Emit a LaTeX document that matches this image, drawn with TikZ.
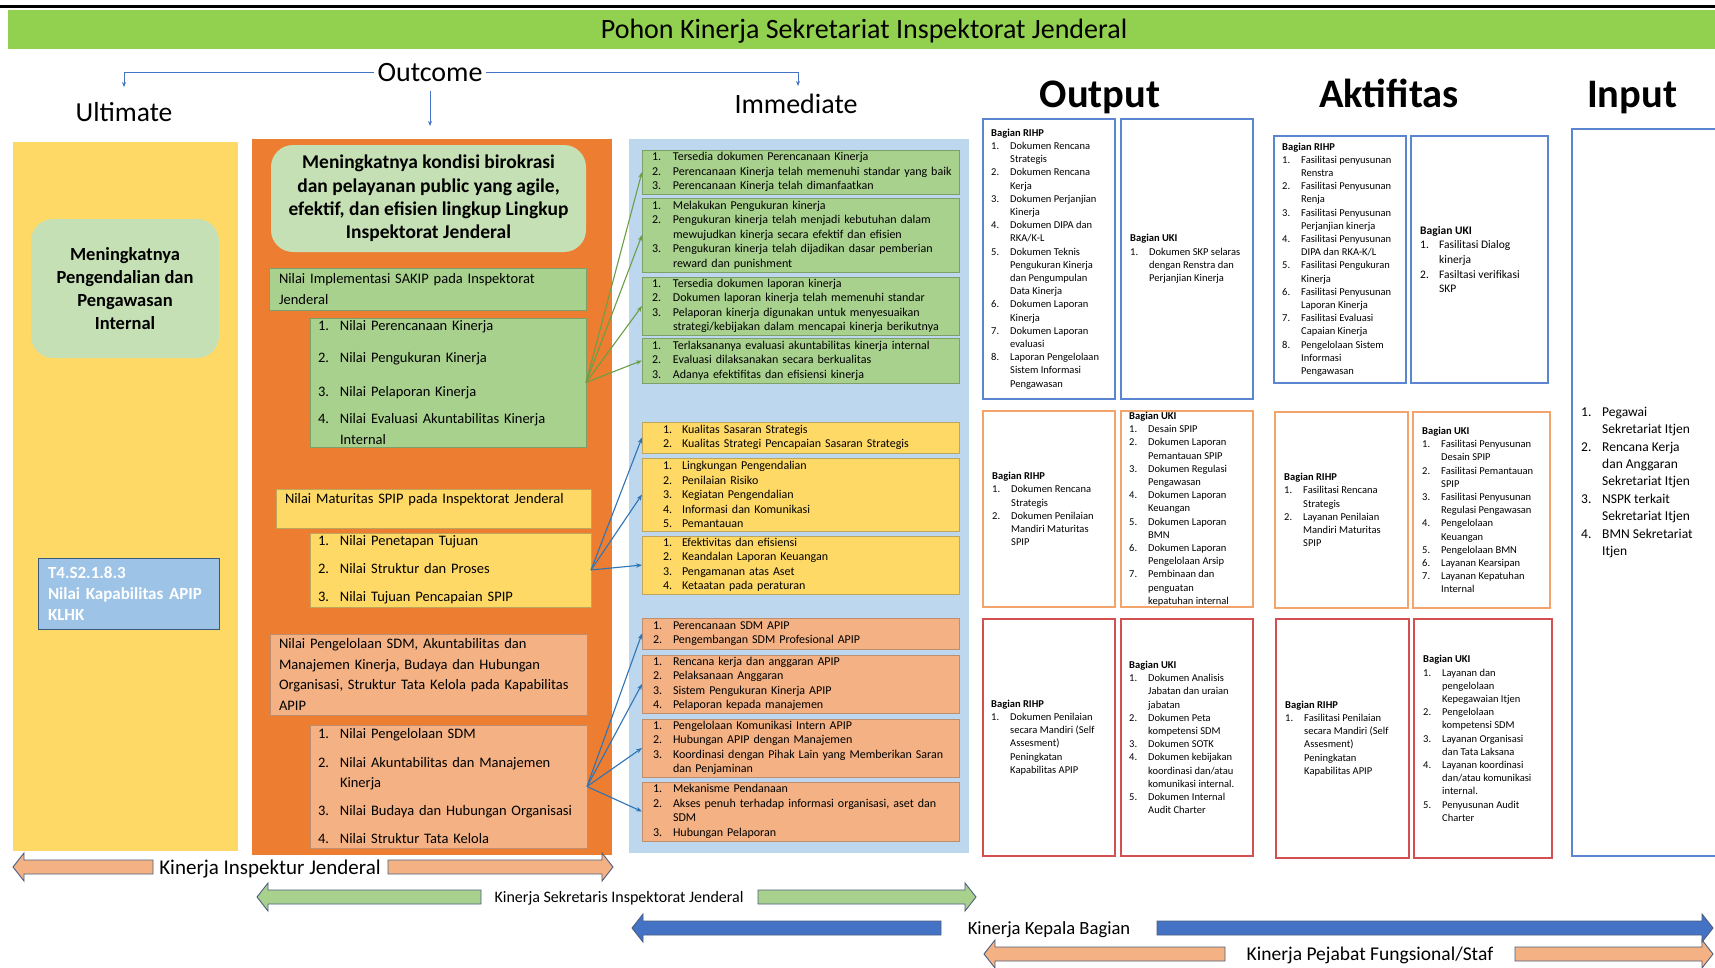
\documentclass[tikz,border=0pt]{standalone}
\usepackage{fontspec}
\setmainfont{Carlito}
\usetikzlibrary{arrows.meta}
\definecolor{bannergreen}{HTML}{92D050}
\definecolor{colyellow}{HTML}{FFD966}
\definecolor{colorange}{HTML}{ED7D31}
\definecolor{colblue}{HTML}{BDD7EE}
\definecolor{lgreen}{HTML}{C5E0B4}
\definecolor{mgreen}{HTML}{A9D18E}
\definecolor{myellow}{HTML}{FFD966}
\definecolor{salmon}{HTML}{F4B183}
\definecolor{gbord}{HTML}{7F9F68}
\definecolor{ybord}{HTML}{BFA65A}
\definecolor{sbord}{HTML}{BF8E6E}
\definecolor{kblue}{HTML}{9DC3E6}
\definecolor{kbluedark}{HTML}{3B5A7A}
\definecolor{conngreen}{HTML}{6A9F45}
\definecolor{connblue}{HTML}{2E75B6}
\definecolor{oblue}{HTML}{5B85D0}
\definecolor{oorange}{HTML}{F3A46A}
\definecolor{ored}{HTML}{D25050}
\definecolor{arrline}{HTML}{4A5F80}
\definecolor{arrblue}{HTML}{4472C4}
\newlength{\numw}
\newcommand{\litem}[2]{\mbox{\makebox[\numw][l]{#1}#2}}
\newcommand{\lcont}[1]{\mbox{\hspace*{\numw}#1}}
\newcommand{\fs}[2]{\fontsize{#1}{#2}\selectfont}
\newcommand{\harrow}[4]{%
  \pgfmathsetmacro{\arrhb}{(#3>#2) ? (#3-11) : (#3+11)}%
  \filldraw[fill=#1, draw=arrline, line width=0.9pt] (#2,#4-7) -- (\arrhb,#4-7) -- (\arrhb,#4-14) -- (#3,#4) -- (\arrhb,#4+14) -- (\arrhb,#4+7) -- (#2,#4+7) -- cycle;}
\tikzset{
  bg/.style={inner sep=0pt, outer sep=0pt, anchor=north west},
  immbox/.style={line width=0.9pt, inner ysep=0pt, outer sep=0pt, align=left, font=\fs{12}{14.5}, minimum width=317pt},
  subbox/.style={line width=0.9pt, inner ysep=0pt, outer sep=0pt, align=left, font=\fs{14.5}{20.5}},
  obox/.style={draw=#1, line width=1.4pt, fill=white, inner sep=0pt, outer sep=0pt},
  otext/.style={anchor=west, align=left, inner sep=0pt, font=\fs{10.5}{13.2}},
  gconn/.style={draw=conngreen, line width=1.1pt, -{Stealth[length=6pt,width=4.5pt]}},
  bconn/.style={draw=connblue, line width=1.1pt, -{Stealth[length=6pt,width=4.5pt]}},
  oconn/.style={draw=arrblue, line width=1pt, -{Stealth[length=5pt,width=4pt]}},
  head/.style={anchor=base, inner sep=0pt, font=\bfseries\fs{40.5}{46}},
  sub/.style={anchor=base, font=\fs{28}{32}},
  arrtext/.style={anchor=base, inner sep=0pt}
}
\begin{document}
\begin{tikzpicture}[x=1pt,y=-1pt]
\useasboundingbox (0,0) rectangle (1715,967);
\fill[white] (0,0) rectangle (1715,967);
\draw[line width=3pt] (0,6) -- (1715,6);
\node[bg, fill=bannergreen, minimum width=1707pt, minimum height=39pt] (banner) at (8,10) {};
\node[anchor=base, font=\fs{28}{32}] (title) at (864,38.5) {Pohon Kinerja Sekretariat Inspektorat Jenderal};

% headers
\node[sub] (outcome) at (430,81) {Outcome};
\node[sub, font=\fs{27.5}{32}] (ultimate) at (124,121) {Ultimate};
\node[sub] (immediate) at (796,113) {Immediate};
\coordinate (ultArr) at (124,87);
\coordinate (immArr) at (798,86);
\coordinate (outArr) at (430,126);
\draw[oconn] (outcome.west) -| (ultArr);
\draw[oconn] (outcome.east) -| (immArr);
\draw[oconn, shorten <=6pt] (outcome.south) -- (outArr);
\node[head] (output) at (1100,107) {Output};
\node[head] (aktifitas) at (1389,107) {Aktifitas};
\node[head] (input) at (1632,107) {Input};

% columns
\node[bg, fill=colyellow, minimum width=225pt, minimum height=709pt] (ycol) at (13,142) {};
\node[bg, fill=colorange, minimum width=360pt, minimum height=716pt] (ocol) at (252,139) {};
\node[bg, fill=colblue, minimum width=340pt, minimum height=714pt] (bcol) at (629,139) {};

% ultimate column
\node[fill=lgreen, rounded corners=22pt, minimum width=188pt, minimum height=139pt, align=center, font=\bfseries\fs{18.5}{23}] (ultbox) at (125,288.5) {Meningkatnya\\Pengendalian dan\\Pengawasan\\Internal};
\node[fill=kblue, draw=kbluedark, line width=1pt, minimum width=181pt, minimum height=71pt, inner xsep=10pt, inner ysep=0pt, text width=161pt, align=left, text=white, font=\bfseries\fs{17}{21}] (apip) at (128.5,593.5) {T4.S2.1.8.3\\Nilai Kapabilitas APIP\\KLHK};

% outcome column
\node[fill=lgreen, rounded corners=22pt, minimum width=315pt, minimum height=107pt, align=center, font=\bfseries\fs{19.5}{23.4}] (topbox) at (428.5,198.5) {Meningkatnya kondisi birokrasi\\dan pelayanan public yang agile,\\efektif, dan efisien lingkup Lingkup\\Inspektorat Jenderal};
\node[subbox, fill=mgreen, draw=gbord, inner xsep=10pt, text width=297pt, minimum height=42pt] (sakip) at (427.5,289) {Nilai Implementasi SAKIP pada Inspektorat\\Jenderal};
\setlength{\numw}{22pt}
\node[subbox, fill=mgreen, draw=gbord, inner xsep=8pt, text width=260pt, minimum height=129pt] (gsub) at (448,382.5) {\litem{1.}{Nilai Perencanaan Kinerja}\\[12pt]\litem{2.}{Nilai Pengukuran Kinerja}\\[13pt]\litem{3.}{Nilai Pelaporan Kinerja}\\[7pt]\litem{4.}{Nilai Evaluasi Akuntabilitas Kinerja}\\\lcont{Internal}};
\node[subbox, fill=myellow, draw=ybord, inner xsep=9pt, text width=297pt, minimum height=39pt] (spip) at (433.5,508.5) {Nilai Maturitas SPIP pada Inspektorat Jenderal\\\mbox{}};
\node[subbox, fill=myellow, draw=ybord, inner xsep=8pt, text width=265pt, minimum height=74pt] (ysub) at (450.5,570) {\litem{1.}{Nilai Penetapan Tujuan}\\[7.5pt]\litem{2.}{Nilai Struktur dan Proses}\\[7.5pt]\litem{3.}{Nilai Tujuan Pencapaian SPIP}};
\node[subbox, fill=salmon, draw=sbord, inner xsep=9pt, text width=299pt, minimum height=81pt] (sdm) at (428.5,674.5) {Nilai Pengelolaan SDM, Akuntabilitas dan\\Manajemen Kinerja, Budaya dan Hubungan\\Organisasi, Struktur Tata Kelola pada Kapabilitas\\APIP};
\node[subbox, fill=salmon, draw=sbord, inner xsep=8pt, text width=261pt, minimum height=123pt] (ssub) at (448.5,786.5) {\litem{1.}{Nilai Pengelolaan SDM}\\[8pt]\litem{2.}{Nilai Akuntabilitas dan Manajemen}\\\lcont{Kinerja}\\[7pt]\litem{3.}{Nilai Budaya dan Hubungan Organisasi}\\[8pt]\litem{4.}{Nilai Struktur Tata Kelola}};

% immediate column
\setlength{\numw}{21pt}
\node[immbox, fill=mgreen, draw=gbord, inner xsep=10pt, text width=297pt, minimum height=44pt] (g1) at (800.5,172) {\litem{1.}{Tersedia dokumen Perencanaan Kinerja}\\\litem{2.}{Perencanaan Kinerja telah memenuhi standar yang baik}\\\litem{3.}{Perencanaan Kinerja telah dimanfaatkan}};
\node[immbox, fill=mgreen, draw=gbord, inner xsep=10pt, text width=297pt, minimum height=74pt] (g2) at (800.5,235) {\litem{1.}{Melakukan Pengukuran kinerja}\\\litem{2.}{Pengukuran kinerja telah menjadi kebutuhan dalam}\\\lcont{mewujudkan kinerja secara efektif dan efisien}\\\litem{3.}{Pengukuran kinerja telah dijadikan dasar pemberian}\\\lcont{reward dan punishment}};
\node[immbox, fill=mgreen, draw=gbord, inner xsep=10pt, text width=297pt, minimum height=58pt] (g3) at (800.5,306) {\litem{1.}{Tersedia dokumen laporan kinerja}\\\litem{2.}{Dokumen laporan kinerja telah memenuhi standar}\\\litem{3.}{Pelaporan kinerja digunakan untuk menyesuaikan}\\\lcont{strategi/kebijakan dalam mencapai kinerja berikutnya}};
\node[immbox, fill=mgreen, draw=gbord, inner xsep=10pt, text width=297pt, minimum height=45pt] (g4) at (800.5,360.5) {\litem{1.}{Terlaksananya evaluasi akuntabilitas kinerja internal}\\\litem{2.}{Evaluasi dilaksanakan secara berkualitas}\\\litem{3.}{Adanya efektifitas dan efisiensi kinerja}};
\setlength{\numw}{19pt}
\node[immbox, fill=myellow, draw=ybord, inner xsep=21pt, text width=275pt, minimum height=31pt] (y1) at (800.5,437.5) {\litem{1.}{Kualitas Sasaran Strategis}\\\litem{2.}{Kualitas Strategi Pencapaian Sasaran Strategis}};
\node[immbox, fill=myellow, draw=ybord, inner xsep=21pt, text width=275pt, minimum height=73pt] (y2) at (800.5,494.5) {\litem{1.}{Lingkungan Pengendalian}\\\litem{2.}{Penilaian Risiko}\\\litem{3.}{Kegiatan Pengendalian}\\\litem{4.}{Informasi dan Komunikasi}\\\litem{5.}{Pemantauan}};
\node[immbox, fill=myellow, draw=ybord, inner xsep=21pt, text width=275pt, minimum height=58pt] (y3) at (800.5,565) {\litem{1.}{Efektivitas dan efisiensi}\\\litem{2.}{Keandalan Laporan Keuangan}\\\litem{3.}{Pengamanan atas Aset}\\\litem{4.}{Ketaatan pada peraturan}};
\setlength{\numw}{20pt}
\node[immbox, fill=salmon, draw=sbord, inner xsep=11pt, text width=295pt, minimum height=31pt] (s1) at (800.5,633.5) {\litem{1.}{Perencanaan SDM APIP}\\\litem{2.}{Pengembangan SDM Profesional APIP}};
\node[immbox, fill=salmon, draw=sbord, inner xsep=11pt, text width=295pt, minimum height=58pt] (s2) at (800.5,684) {\litem{1.}{Rencana kerja dan anggaran APIP}\\\litem{2.}{Pelaksanaan Anggaran}\\\litem{3.}{Sistem Pengukuran Kinerja APIP}\\\litem{4.}{Pelaporan kepada manajemen}};
\node[immbox, fill=salmon, draw=sbord, inner xsep=11pt, text width=295pt, minimum height=58pt] (s3) at (800.5,748) {\litem{1.}{Pengelolaan Komunikasi Intern APIP}\\\litem{2.}{Hubungan APIP dengan Manajemen}\\\litem{3.}{Koordinasi dengan Pihak Lain yang Memberikan Saran}\\\lcont{dan Penjaminan}};
\node[immbox, fill=salmon, draw=sbord, inner xsep=11pt, text width=295pt, minimum height=59pt] (s4) at (800.5,811.5) {\litem{1.}{Mekanisme Pendanaan}\\\litem{2.}{Akses penuh terhadap informasi organisasi, aset dan}\\\lcont{SDM}\\\litem{3.}{Hubungan Pelaporan}};

% connectors
\foreach \t in {g1,g2,g3,g4} \draw[gconn] (gsub.east) -- (\t.west);
\foreach \t in {y1,y2,y3} \draw[bconn] (ysub.east) -- (\t.west);
\foreach \t in {s1,s2,s3,s4} \draw[bconn] (ssub.east) -- (\t.west);

% output column
\setlength{\numw}{19pt}
\node[obox=oblue, minimum width=132pt, minimum height=280pt] (o1) at (1049,259) {};
\node[obox=oblue, minimum width=132pt, minimum height=280pt] (o2) at (1187,259) {};
\node[obox=oorange, minimum width=132pt, minimum height=196pt] (o3) at (1049,509) {};
\node[obox=oorange, minimum width=132pt, minimum height=196pt] (o4) at (1187,509) {};
\node[obox=ored, minimum width=132pt, minimum height=237pt] (o5) at (1049,737.5) {};
\node[obox=ored, minimum width=132pt, minimum height=237pt] (o6) at (1187,737.5) {};
\node[otext] (o1t) at ([xshift=8pt]o1.west) {\textbf{Bagian RIHP}\\\litem{1.}{Dokumen Rencana}\\\lcont{Strategis}\\\litem{2.}{Dokumen Rencana}\\\lcont{Kerja}\\\litem{3.}{Dokumen Perjanjian}\\\lcont{Kinerja}\\\litem{4.}{Dokumen DIPA dan}\\\lcont{RKA/K-L}\\\litem{5.}{Dokumen Teknis}\\\lcont{Pengukuran Kinerja}\\\lcont{dan Pengumpulan}\\\lcont{Data Kinerja}\\\litem{6.}{Dokumen Laporan}\\\lcont{Kinerja}\\\litem{7.}{Dokumen Laporan}\\\lcont{evaluasi}\\\litem{8.}{Laporan Pengelolaan}\\\lcont{Sistem Informasi}\\\lcont{Pengawasan}};
\node[otext] (o2t) at ([xshift=9pt]o2.west) {\textbf{Bagian UKI}\\\litem{1.}{Dokumen SKP selaras}\\\lcont{dengan Renstra dan}\\\lcont{Perjanjian Kinerja}};
\node[otext] (o3t) at ([xshift=9pt]o3.west) {\textbf{Bagian RIHP}\\\litem{1.}{Dokumen Rencana}\\\lcont{Strategis}\\\litem{2.}{Dokumen Penilaian}\\\lcont{Mandiri Maturitas}\\\lcont{SPIP}};
\node[otext] (o4t) at ([xshift=8pt]o4.west) {\textbf{Bagian UKI}\\\litem{1.}{Desain SPIP}\\\litem{2.}{Dokumen Laporan}\\\lcont{Pemantauan SPIP}\\\litem{3.}{Dokumen Regulasi}\\\lcont{Pengawasan}\\\litem{4.}{Dokumen Laporan}\\\lcont{Keuangan}\\\litem{5.}{Dokumen Laporan}\\\lcont{BMN}\\\litem{6.}{Dokumen Laporan}\\\lcont{Pengelolaan Arsip}\\\litem{7.}{Pembinaan dan}\\\lcont{penguatan}\\\lcont{kepatuhan internal}};
\node[otext] (o5t) at ([xshift=8pt]o5.west) {\textbf{Bagian RIHP}\\\litem{1.}{Dokumen Penilaian}\\\lcont{secara Mandiri (Self}\\\lcont{Assesment)}\\\lcont{Peningkatan}\\\lcont{Kapabilitas APIP}};
\node[otext] (o6t) at ([xshift=8pt]o6.west) {\textbf{Bagian UKI}\\\litem{1.}{Dokumen Analisis}\\\lcont{Jabatan dan uraian}\\\lcont{jabatan}\\\litem{2.}{Dokumen Peta}\\\lcont{kompetensi SDM}\\\litem{3.}{Dokumen SOTK}\\\litem{4.}{Dokumen kebijakan}\\\lcont{koordinasi dan/atau}\\\lcont{komunikasi internal.}\\\litem{5.}{Dokumen Internal}\\\lcont{Audit Charter}};

% aktifitas column
\node[obox=oblue, minimum width=132pt, minimum height=247pt] (a1) at (1340,259.5) {};
\node[obox=oblue, minimum width=137pt, minimum height=247pt] (a2) at (1479.5,259.5) {};
\node[obox=oorange, minimum width=133pt, minimum height=196pt] (a3) at (1341.5,510) {};
\node[obox=oorange, minimum width=137pt, minimum height=196pt] (a4) at (1481.5,510) {};
\node[obox=ored, minimum width=133pt, minimum height=239pt] (a5) at (1342.5,738.5) {};
\node[obox=ored, minimum width=138pt, minimum height=239pt] (a6) at (1483,738.5) {};
\node[otext] (a1t) at ([xshift=8pt]a1.west) {\textbf{Bagian RIHP}\\\litem{1.}{Fasilitasi penyusunan}\\\lcont{Renstra}\\\litem{2.}{Fasilitasi Penyusunan}\\\lcont{Renja}\\\litem{3.}{Fasilitasi Penyusunan}\\\lcont{Perjanjian kinerja}\\\litem{4.}{Fasilitasi Penyusunan}\\\lcont{DIPA dan RKA-K/L}\\\litem{5.}{Fasilitasi Pengukuran}\\\lcont{Kinerja}\\\litem{6.}{Fasilitasi Penyusunan}\\\lcont{Laporan Kinerja}\\\litem{7.}{Fasilitasi Evaluasi}\\\lcont{Capaian Kinerja}\\\litem{8.}{Pengelolaan Sistem}\\\lcont{Informasi}\\\lcont{Pengawasan}};
\node[otext, font=\fs{11.5}{14.7}] (a2t) at ([xshift=9pt]a2.west) {\textbf{Bagian UKI}\\\litem{1.}{Fasilitasi Dialog}\\\lcont{kinerja}\\\litem{2.}{Fasiltasi verifikasi}\\\lcont{SKP}};
\node[otext] (a3t) at ([xshift=9pt]a3.west) {\textbf{Bagian RIHP}\\\litem{1.}{Fasilitasi Rencana}\\\lcont{Strategis}\\\litem{2.}{Layanan Penilaian}\\\lcont{Mandiri Maturitas}\\\lcont{SPIP}};
\node[otext] (a4t) at ([xshift=9pt]a4.west) {\textbf{Bagian UKI}\\\litem{1.}{Fasilitasi Penyusunan}\\\lcont{Desain SPIP}\\\litem{2.}{Fasilitasi Pemantauan}\\\lcont{SPIP}\\\litem{3.}{Fasilitasi Penyusunan}\\\lcont{Regulasi Pengawasan}\\\litem{4.}{Pengelolaan}\\\lcont{Keuangan}\\\litem{5.}{Pengelolaan BMN}\\\litem{6.}{Layanan Kearsipan}\\\litem{7.}{Layanan Kepatuhan}\\\lcont{Internal}};
\node[otext] (a5t) at ([xshift=9pt]a5.west) {\textbf{Bagian RIHP}\\\litem{1.}{Fasilitasi Penilaian}\\\lcont{secara Mandiri (Self}\\\lcont{Assesment)}\\\lcont{Peningkatan}\\\lcont{Kapabilitas APIP}};
\node[otext] (a6t) at ([xshift=9pt]a6.west) {\textbf{Bagian UKI}\\\litem{1.}{Layanan dan}\\\lcont{pengelolaan}\\\lcont{Kepegawaian Itjen}\\\litem{2.}{Pengelolaan}\\\lcont{kompetensi SDM}\\\litem{3.}{Layanan Organisasi}\\\lcont{dan Tata Laksana}\\\litem{4.}{Layanan koordinasi}\\\lcont{dan/atau komunikasi}\\\lcont{internal.}\\\litem{5.}{Penyusunan Audit}\\\lcont{Charter}};

% input column
\node[obox=oblue, line width=1.2pt, minimum width=146pt, minimum height=727pt] (inbox) at (1645,492.5) {};
\setlength{\numw}{21pt}
\node[otext, font=\fs{13.5}{17.4}] (intext) at (1581,482.5) {\litem{1.}{Pegawai}\\\lcont{Sekretariat Itjen}\\\litem{2.}{Rencana Kerja}\\\lcont{dan Anggaran}\\\lcont{Sekretariat Itjen}\\\litem{3.}{NSPK terkait}\\\lcont{Sekretariat Itjen}\\\litem{4.}{BMN Sekretariat}\\\lcont{Itjen}};

% bottom arrows
\harrow{salmon}{153}{13}{867}
\harrow{salmon}{388}{613}{867}
\node[arrtext, font=\fs{21}{24}] (kij) at (270,874) {Kinerja Inspektur Jenderal};
\harrow{mgreen}{481}{257}{897}
\harrow{mgreen}{758}{976}{897}
\node[arrtext, font=\fs{16}{19}] (ksij) at (619,902) {Kinerja Sekretaris Inspektorat Jenderal};
\harrow{arrblue}{941}{632}{928}
\harrow{arrblue}{1157}{1713}{928}
\node[arrtext, font=\fs{18.6}{22}] (kkb) at (1049,934) {Kinerja Kepala Bagian};
\harrow{salmon}{1225}{984}{954}
\harrow{salmon}{1515}{1713}{954}
\node[arrtext, font=\fs{19.5}{23}] (kpf) at (1370,960) {Kinerja Pejabat Fungsional/Staf};
\end{tikzpicture}
\end{document}
